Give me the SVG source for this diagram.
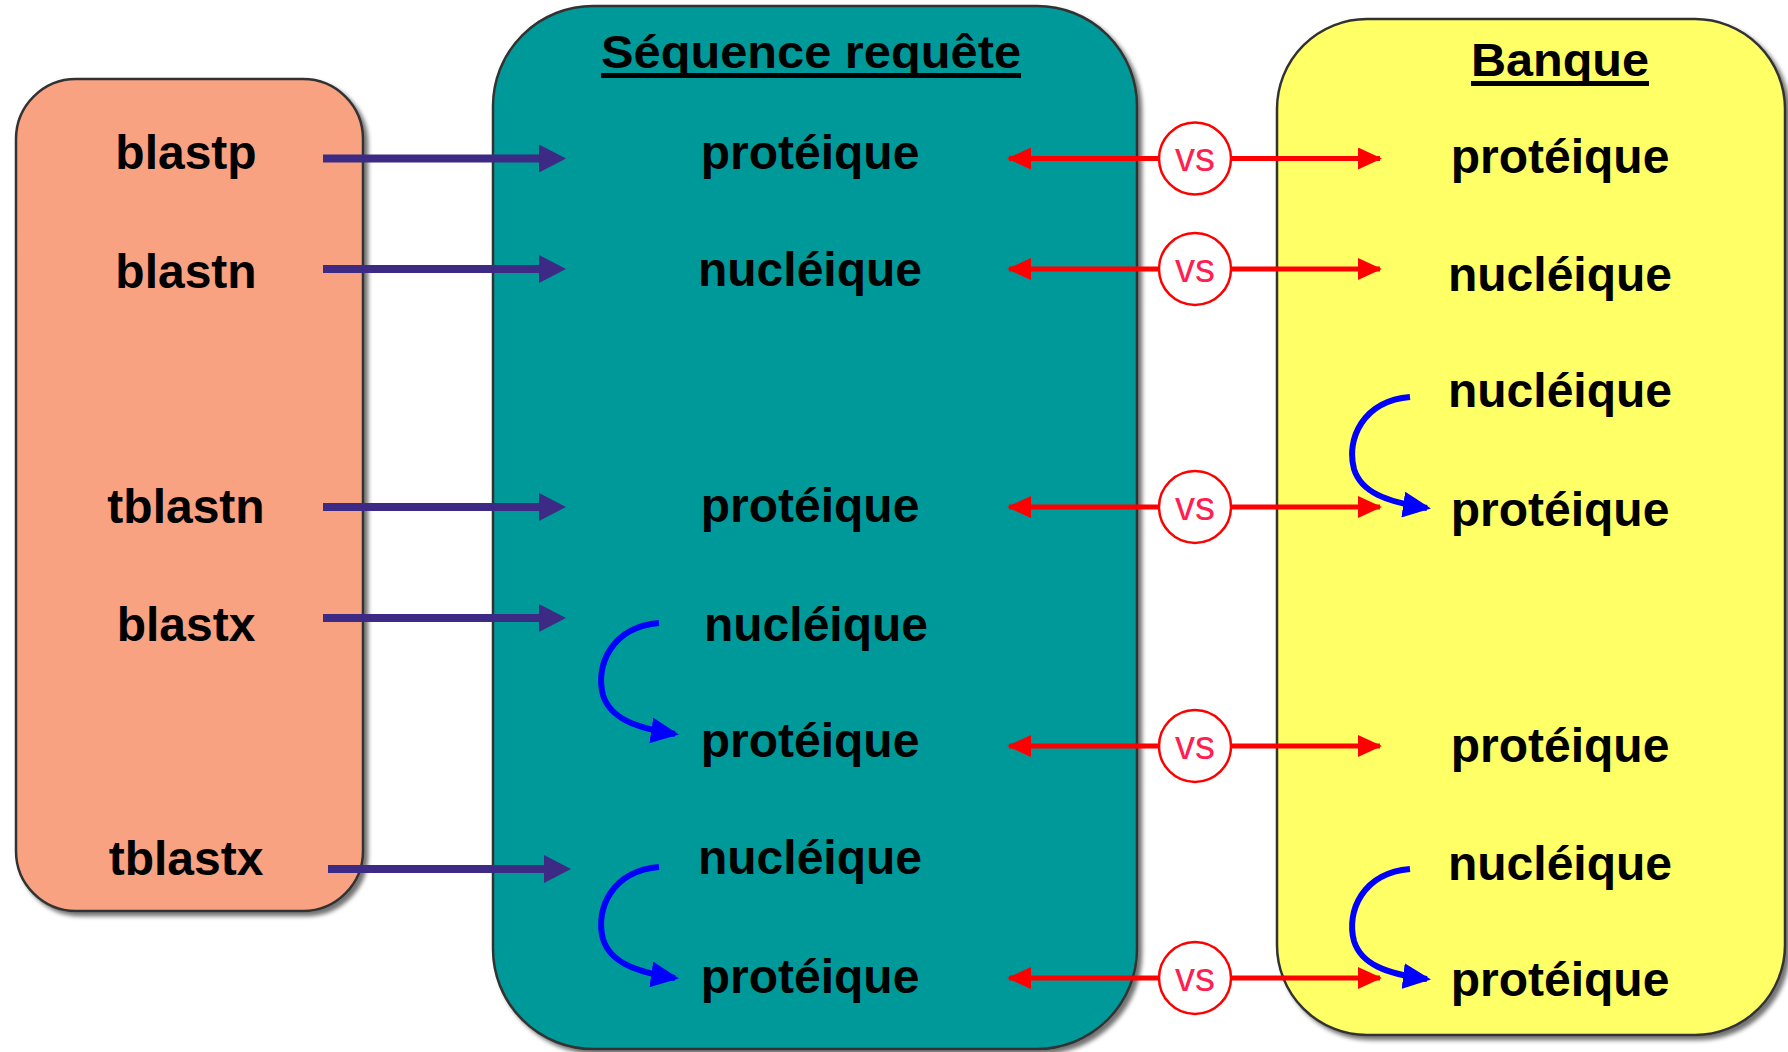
<svg xmlns="http://www.w3.org/2000/svg" width="1788" height="1052" viewBox="0 0 1788 1052">
<style>
.lbl{font-family:"Liberation Sans",Arial,sans-serif;font-weight:bold;font-size:48px;fill:#000;text-anchor:middle}
.ttl{font-family:"Liberation Sans",Arial,sans-serif;font-weight:bold;font-size:47px;fill:#000;text-anchor:middle}
.vs{font-family:"Liberation Sans",Arial,sans-serif;font-size:40px;fill:#ff2050;text-anchor:middle}
.box{stroke:#333;stroke-width:2.5}
.pur{stroke:#3d2a84;stroke-width:8;fill:none}
.red{stroke:#ff0000;stroke-width:5;fill:none}
.blu{stroke:#0000ff;stroke-width:6;fill:none}
.vsc{fill:#fff;stroke:#ff0000;stroke-width:2.5}
</style>
<defs>
<marker id="mr" markerWidth="24" markerHeight="22" refX="22" refY="11" orient="auto-start-reverse" markerUnits="userSpaceOnUse"><path d="M0,0 L24,11 L0,22 Z" fill="#ff0000"/></marker>
<marker id="mb" markerWidth="28" markerHeight="26" refX="24" refY="13" orient="auto" markerUnits="userSpaceOnUse"><path d="M0,0 L28,13 L0,26 Z" fill="#0000ff"/></marker>
<filter id="sh" x="-5%" y="-5%" width="110%" height="110%"><feDropShadow dx="4" dy="4" stdDeviation="2" flood-color="#000" flood-opacity="0.55"/></filter>
</defs>

<g id="programmes">
<rect class="box" x="16" y="79" width="347" height="832" rx="60" ry="60" fill="#f9a281" filter="url(#sh)"/>
<text class="lbl" x="186" y="169">blastp</text>
<text class="lbl" x="186" y="288">blastn</text>
<text class="lbl" x="186" y="523">tblastn</text>
<text class="lbl" x="186" y="641">blastx</text>
<text class="lbl" x="186" y="875">tblastx</text>
</g>

<g id="sequence-requete">
<rect class="box" x="493" y="6" width="644" height="1043" rx="100" ry="100" fill="#009999" filter="url(#sh)"/>
<text class="ttl" x="811" y="68" textLength="420" lengthAdjust="spacingAndGlyphs">Séquence requête</text>
<rect x="601" y="73" width="420" height="5" fill="#000"/>
<text class="lbl" x="810" y="169">protéique</text>
<text class="lbl" x="810" y="286">nucléique</text>
<text class="lbl" x="810" y="522">protéique</text>
<text class="lbl" x="816" y="641">nucléique</text>
<text class="lbl" x="810" y="757">protéique</text>
<text class="lbl" x="810" y="874">nucléique</text>
<text class="lbl" x="810" y="993">protéique</text>
</g>

<g id="banque">
<rect class="box" x="1277" y="19" width="508" height="1016" rx="90" ry="90" fill="#ffff66" filter="url(#sh)"/>
<text class="ttl" x="1560" y="76" textLength="178" lengthAdjust="spacingAndGlyphs">Banque</text>
<rect x="1471" y="81" width="178" height="5" fill="#000"/>
<text class="lbl" x="1560" y="173">protéique</text>
<text class="lbl" x="1560" y="291">nucléique</text>
<text class="lbl" x="1560" y="407">nucléique</text>
<text class="lbl" x="1560" y="526">protéique</text>
<text class="lbl" x="1560" y="762">protéique</text>
<text class="lbl" x="1560" y="880">nucléique</text>
<text class="lbl" x="1560" y="996">protéique</text>
</g>

<g id="connectors">
<g id="blast-arrows">
<path class="pur" d="M323,158.5 H544"/><path d="M539,144.5 L566,158.5 L539,172.5 Z" fill="#3d2a84"/>
<path class="pur" d="M323,269 H544"/><path d="M539,255 L566,269 L539,283 Z" fill="#3d2a84"/>
<path class="pur" d="M323,507 H544"/><path d="M539,493 L566,507 L539,521 Z" fill="#3d2a84"/>
<path class="pur" d="M323,618 H544"/><path d="M539,604 L566,618 L539,632 Z" fill="#3d2a84"/>
<path class="pur" d="M328,869 H549"/><path d="M544,855 L571,869 L544,883 Z" fill="#3d2a84"/>
</g>
<g id="vs-arrows">
<path class="red" d="M1009,158.5 H1380" marker-start="url(#mr)" marker-end="url(#mr)"/>
<circle class="vsc" cx="1195" cy="158.5" r="36"/><text class="vs" x="1195" y="171">vs</text>
<path class="red" d="M1009,269 H1380" marker-start="url(#mr)" marker-end="url(#mr)"/>
<circle class="vsc" cx="1195" cy="269" r="36"/><text class="vs" x="1195" y="281.5">vs</text>
<path class="red" d="M1009,507 H1380" marker-start="url(#mr)" marker-end="url(#mr)"/>
<circle class="vsc" cx="1195" cy="507" r="36"/><text class="vs" x="1195" y="519.5">vs</text>
<path class="red" d="M1009,746 H1380" marker-start="url(#mr)" marker-end="url(#mr)"/>
<circle class="vsc" cx="1195" cy="746" r="36"/><text class="vs" x="1195" y="758.5">vs</text>
<path class="red" d="M1009,978 H1380" marker-start="url(#mr)" marker-end="url(#mr)"/>
<circle class="vsc" cx="1195" cy="978" r="36"/><text class="vs" x="1195" y="990.5">vs</text>
</g>
<g id="translation-arrows">
<path class="blu" d="M659,623 C612,627 595,665 603,695 C610,718 635,728 675,734" marker-end="url(#mb)"/>
<path class="blu" d="M659,867 C612,871 595,909 603,939 C610,962 635,972 675,978" marker-end="url(#mb)"/>
<path class="blu" d="M1410,397 C1363,401 1346,439 1354,469 C1361,492 1386,502 1427,508" marker-end="url(#mb)"/>
<path class="blu" d="M1410,869 C1363,873 1346,911 1354,941 C1361,964 1386,974 1427,979" marker-end="url(#mb)"/>
</g>
</g>
</svg>
